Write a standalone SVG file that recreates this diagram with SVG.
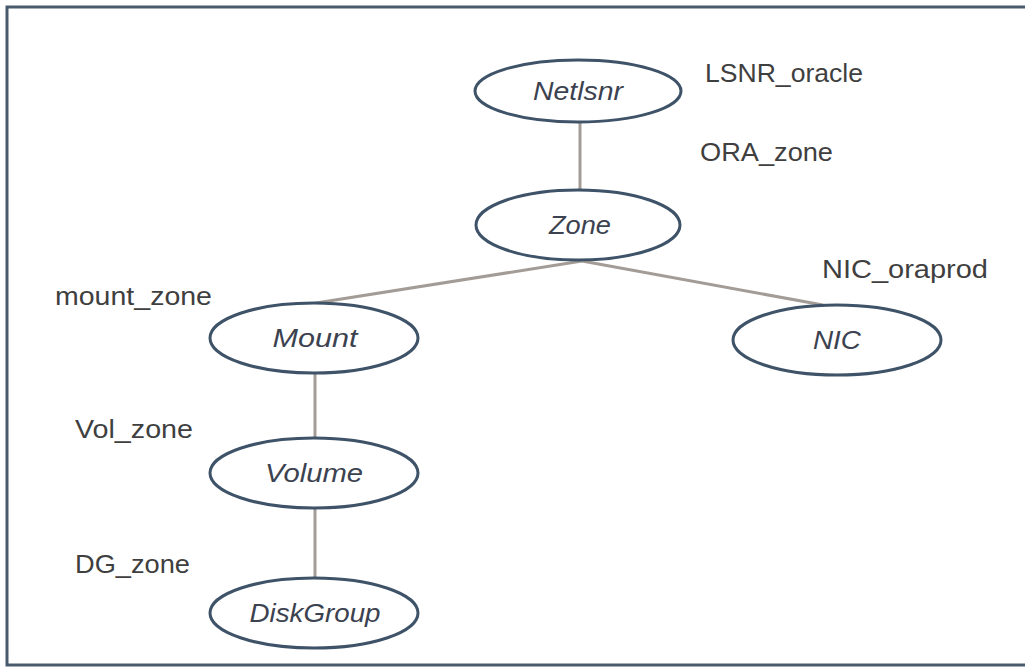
<svg xmlns="http://www.w3.org/2000/svg" width="1025" height="668" viewBox="0 0 1025 668">
<style>
.node ellipse{fill:#ffffff;stroke:#3e5268;stroke-width:3}
.node text{font-family:"Liberation Sans",Arial,sans-serif;font-style:italic;font-size:25px;fill:#3c4250;text-anchor:middle}
.lbl{font-family:"Liberation Sans",Arial,sans-serif;font-size:25px;fill:#3f3f3f}
.conn line{stroke:#a39c96;stroke-width:3}
</style>
<rect x="0" y="0" width="1025" height="668" fill="#ffffff"/>
<rect x="7" y="7" width="1030" height="658" fill="none" stroke="#4a5a6e" stroke-width="3"/>
<g id="connectors" class="conn">
<line x1="580" y1="122" x2="580" y2="191"/>
<line x1="582" y1="261" x2="316" y2="303"/>
<line x1="582" y1="261" x2="823" y2="305"/>
<line x1="315" y1="373" x2="315" y2="438"/>
<line x1="315" y1="508" x2="315" y2="578"/>
</g>
<g id="netlsnr" class="node"><ellipse cx="578" cy="91" rx="103" ry="31"/><text x="578" y="100" textLength="90" lengthAdjust="spacingAndGlyphs">Netlsnr</text></g>
<g id="zone" class="node"><ellipse cx="578" cy="225" rx="102" ry="35"/><text x="580" y="234" textLength="62" lengthAdjust="spacingAndGlyphs">Zone</text></g>
<g id="mount" class="node"><ellipse cx="314" cy="338" rx="104" ry="35"/><text x="315" y="347" textLength="85" lengthAdjust="spacingAndGlyphs">Mount</text></g>
<g id="nic" class="node"><ellipse cx="837" cy="340" rx="104" ry="35"/><text x="837" y="349" textLength="48" lengthAdjust="spacingAndGlyphs">NIC</text></g>
<g id="volume" class="node"><ellipse cx="314" cy="473" rx="104" ry="35"/><text x="314" y="482" textLength="98" lengthAdjust="spacingAndGlyphs">Volume</text></g>
<g id="diskgroup" class="node"><ellipse cx="314" cy="613" rx="104" ry="35"/><text x="315" y="622" textLength="131" lengthAdjust="spacingAndGlyphs">DiskGroup</text></g>
<g id="labels">
<text class="lbl" x="705" y="82" textLength="158" lengthAdjust="spacingAndGlyphs">LSNR_oracle</text>
<text class="lbl" x="700" y="161" textLength="133" lengthAdjust="spacingAndGlyphs">ORA_zone</text>
<text class="lbl" x="822" y="278" textLength="166" lengthAdjust="spacingAndGlyphs">NIC_oraprod</text>
<text class="lbl" x="55" y="305" textLength="157" lengthAdjust="spacingAndGlyphs">mount_zone</text>
<text class="lbl" x="75" y="438" textLength="118" lengthAdjust="spacingAndGlyphs">Vol_zone</text>
<text class="lbl" x="75" y="573" textLength="115" lengthAdjust="spacingAndGlyphs">DG_zone</text>
</g>
</svg>
